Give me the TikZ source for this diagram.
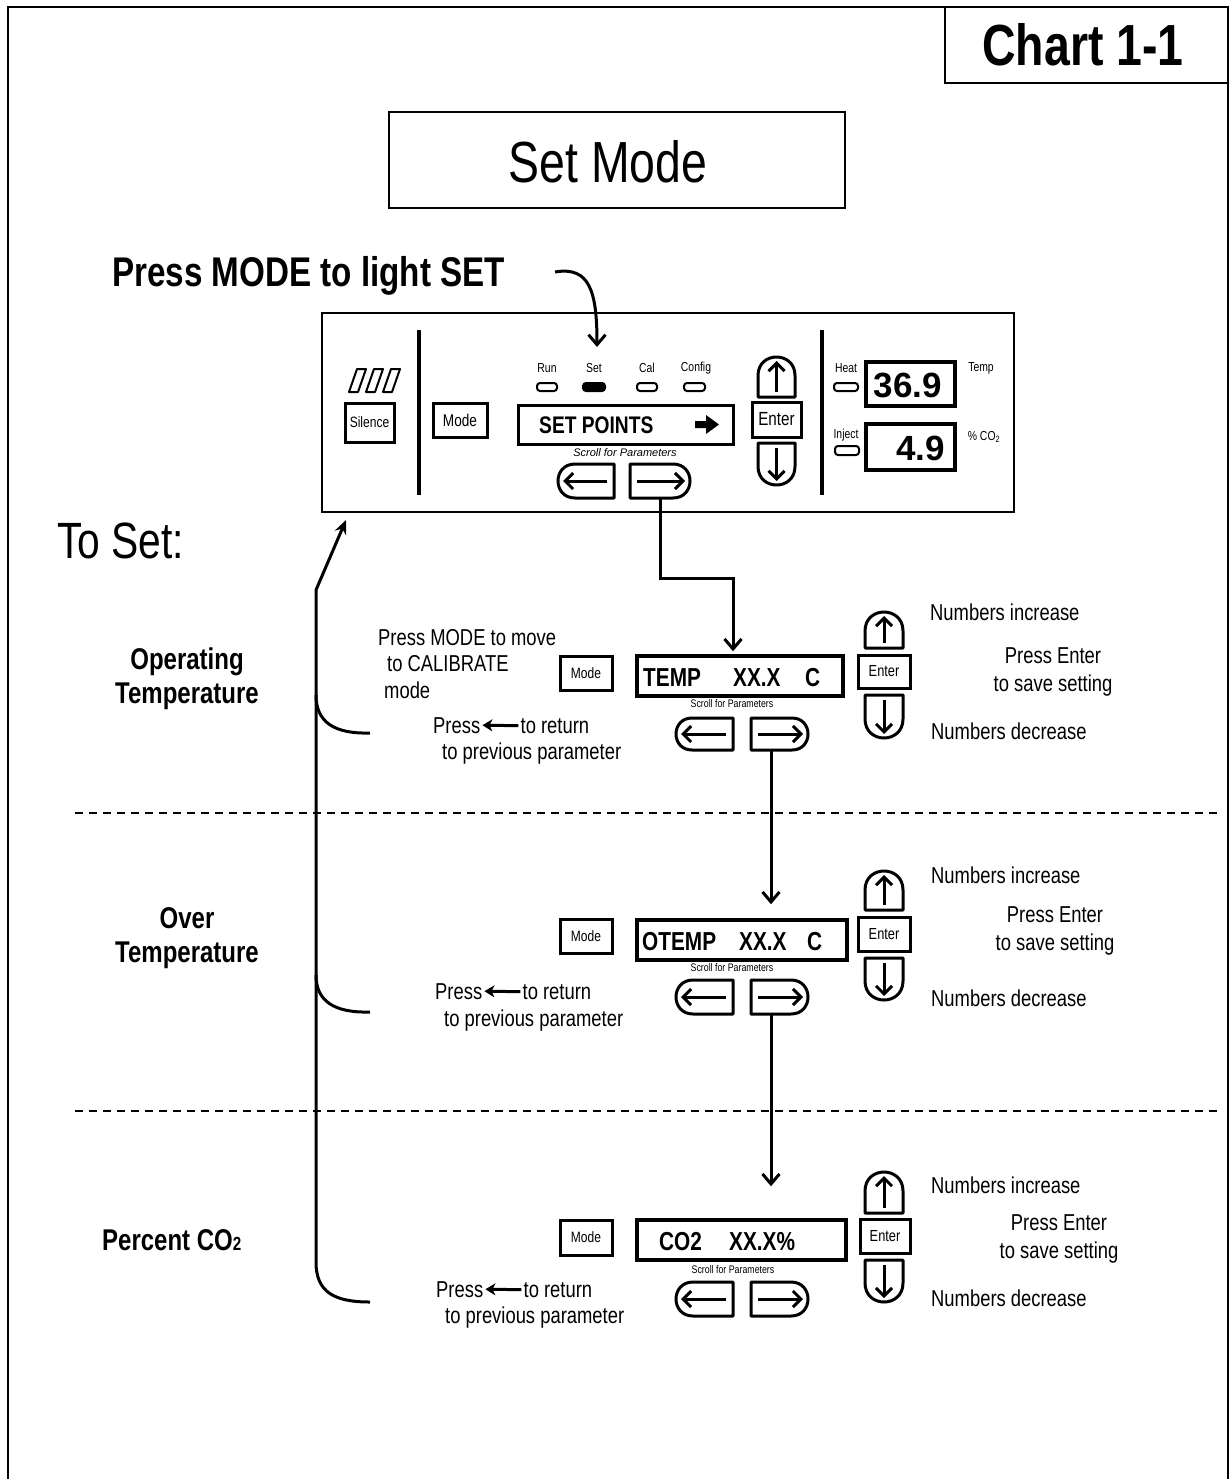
\documentclass[tikz,border=0pt]{standalone}
\usepackage{fontspec}
\setmainfont{Liberation Sans}
\newfontfamily\cond[FakeStretch=0.8]{Liberation Sans}
\usetikzlibrary{arrows.meta,calc}
\newcommand\fsz[2]{\fontsize{#1}{#2}\selectfont}
% box node from corner coordinates: style, name, x1, y1, x2, y2, text
\newcommand\bx[7]{\node[#1,minimum width={#5-#3},minimum height={#6-#4}] (#2) at ({(#3+#5)/2},{(#4+#6)/2}) {#7};}
\newcommand\lbtn[5]{%
 \node[inner sep=0pt,minimum width={#4-#2},minimum height={#5-#3}] (#1) at ({(#2+#4)/2},{(#3+#5)/2}) {};
 \draw[btnline] (#4,#3) -- ({#2+(#5-#3)/2},#3) .. controls ({#2-(#5-#3)/6},#3) and ({#2-(#5-#3)/6},#5) .. ({#2+(#5-#3)/2},#5) -- (#4,#5) -- cycle;
 \draw[inarr] ({#4-7},{(#3+#5)/2}) -- ({#2+5},{(#3+#5)/2});}
\newcommand\rbtn[5]{%
 \node[inner sep=0pt,minimum width={#4-#2},minimum height={#5-#3}] (#1) at ({(#2+#4)/2},{(#3+#5)/2}) {};
 \draw[btnline] (#2,#3) -- ({#4-(#5-#3)/2},#3) .. controls ({#4+(#5-#3)/6},#3) and ({#4+(#5-#3)/6},#5) .. ({#4-(#5-#3)/2},#5) -- (#2,#5) -- cycle;
 \draw[inarr] ({#2+7},{(#3+#5)/2}) -- ({#4-5},{(#3+#5)/2});}
\newcommand\ubtn[5]{%
 \node[inner sep=0pt,minimum width={#4-#2},minimum height={#5-#3}] (#1) at ({(#2+#4)/2},{(#3+#5)/2}) {};
 \draw[btnline] (#2,#5) -- (#2,{#3+(#4-#2)/2}) .. controls (#2,{#3-(#4-#2)/6}) and (#4,{#3-(#4-#2)/6}) .. (#4,{#3+(#4-#2)/2}) -- (#4,#5) -- cycle;
 \draw[inarr] ({(#2+#4)/2},{#5-5}) -- ({(#2+#4)/2},{#3+4});}
\newcommand\dbtn[5]{%
 \node[inner sep=0pt,minimum width={#4-#2},minimum height={#5-#3}] (#1) at ({(#2+#4)/2},{(#3+#5)/2}) {};
 \draw[btnline] (#2,#3) -- (#2,{#5-(#4-#2)/2}) .. controls (#2,{#5+(#4-#2)/6}) and (#4,{#5+(#4-#2)/6}) .. (#4,{#5-(#4-#2)/2}) -- (#4,#3) -- cycle;
 \draw[inarr] ({(#2+#4)/2},{#3+5}) -- ({(#2+#4)/2},{#5-4});}
\begin{document}
\begin{tikzpicture}[x=1pt,y=-1pt,
 btnline/.style={line width=3pt,line join=round},
 inarr/.style={line width=3pt,-{Straight Barb[length=8pt,width=16pt]}},
 btn/.style={draw,line width=3pt,inner sep=0pt,font=\cond\fsz{15}{15}},
 pbtn/.style={draw,line width=3pt,inner sep=0pt,font=\cond\fsz{17}{17}},
 disp/.style={draw,line width=3.5pt,inner sep=0pt},
 led/.style={draw,line width=2pt,rounded corners=3pt,inner sep=0pt},
 txt/.style={inner sep=0pt,font=\cond\fsz{23}{26.5}},
 small/.style={inner sep=0pt,font=\cond\fsz{13}{13}},
 tiny/.style={inner sep=0pt,font=\cond\fsz{11}{11}},
 lcd/.style={inner sep=0pt,anchor=base west,font=\cond\bfseries\fsz{26}{26}},
 sect/.style={inner sep=0pt,align=center,font=\cond\bfseries\fsz{30}{34}},
 conn/.style={line width=3pt,-{Straight Barb[length=10pt,width=17pt]}},
 retarr/.style={line width=3pt,-{Stealth[length=10pt,width=12pt,inset=3pt]}},
 loop/.style={line width=3pt},
 sep/.style={line width=1.5pt,dash pattern=on 8pt off 6pt}]
\useasboundingbox (0,0) rectangle (1231,1479);
\fill[white] (0,0) rectangle (1231,1479);
% outer frame
\draw[line width=2.2pt] (8,1479) -- (8,7) -- (1228,7) -- (1228,1479);
% chart label
\draw[line width=2.2pt] (945,7) -- (945,83) -- (1228,83);
\node[inner sep=0pt,font=\cond\bfseries\fsz{58}{58}] (chart) at (1083,45) {Chart 1-1};
% title
\bx{draw,line width=1.6pt}{setmode}{389}{112}{845}{208}{}
\node[inner sep=0pt,font=\cond\fsz{58}{58}] (setmodet) at (608,162) {Set Mode};
\node[anchor=base west,inner sep=0pt,font=\cond\bfseries\fsz{41.5}{41.5}] (pressmode) at (112,286) {Press MODE to light SET};
\coordinate (pmstart) at (555,272);
\coordinate (pmend) at (597,347);
\draw[conn] (pmstart) .. controls (590,266) and (597,292) .. (pmend);
% ---------- panel ----------
\bx{draw,line width=2.2pt}{panel}{322}{313}{1014}{512}{}
\foreach \i in {0,1,2}{
 \draw[line width=2pt,line join=round] ({349+17*\i},392) -- ({357+17*\i},369) -- ({366+17*\i},369) -- ({358+17*\i},392) -- cycle;}
\bx{pbtn,font=\cond\fsz{15}{15}}{silence}{345}{403}{394}{442}{Silence}
\draw[line width=3.5pt] (419,330) -- (419,495);
\bx{pbtn}{pmode}{433}{403}{487}{437}{Mode}
\node[small] (lrun) at (547,368) {Run};
\node[small] (lset) at (594,368) {Set};
\node[small] (lcal) at (647,368) {Cal};
\node[small] (lcfg) at (696,368) {Config};
\bx{led}{ledrun}{537}{383}{557}{391}{}
\bx{led,fill=black}{setled}{583}{383}{605}{391}{}
\bx{led}{ledcal}{637}{383}{657}{391}{}
\bx{led}{ledcfg}{684}{383}{705}{391}{}
\bx{disp,line width=3pt}{pdisp}{518}{405}{733}{444}{}
\node[anchor=base west,inner sep=0pt,font=\cond\bfseries\fsz{24}{24}] (setpts) at (539,433) {SET POINTS};
\fill (695,421) -- (706,421) -- (706,415) -- (719,424.5) -- (706,434) -- (706,428) -- (695,428) -- cycle;
\node[inner sep=0pt,font=\itshape\fsz{11}{11}] (pscroll) at (625,453) {Scroll for Parameters};
\lbtn{lb0}{558}{464}{614}{498}
\rbtn{rb0}{630}{464}{690}{498}
\ubtn{ub0}{758}{357}{795}{397}
\bx{pbtn,font=\cond\fsz{19}{19}}{pent}{752}{402}{801}{437}{Enter}
\dbtn{db0}{758}{443}{795}{485}
\draw[line width=3.5pt] (822,330) -- (822,495);
\node[small] (lheat) at (846,368) {Heat};
\bx{led}{ledheat}{834}{383}{858}{391}{}
\node[small] (linj) at (846,435) {Inject};
\bx{led}{ledinj}{835}{446}{859}{455}{}
\bx{disp}{tdisp}{866}{362}{955}{406}{}
\node[inner sep=0pt,font=\bfseries\fsz{35}{35}] (tval) at (908,385) {36.9};
\bx{disp}{cdisp}{866}{424}{955}{470}{}
\node[inner sep=0pt,anchor=east,font=\bfseries\fsz{35}{35}] (cval) at (945,448) {4.9};
\node[small] (ltemp) at (981,368) {Temp};
\node[small] (lco2) at (984,437) {\% CO\textsubscript{2}};
% ---------- To Set ----------
\node[anchor=west,inner sep=0pt,font=\cond\fsz{51}{51}] (toset) at (57,541) {To Set:};
% return loop
\coordinate (looptop) at (316,590);
\coordinate (looptip) at (346,520);
\coordinate (hook1) at (370,733);
\coordinate (hook2) at (370,1012);
\coordinate (hook3) at (370,1302);
\draw[loop,-{Stealth[length=14pt,width=12pt]}] (hook3) .. controls (334,1302) and (316,1292) .. (316,1262) -- (looptop) -- (looptip);
\draw[loop] (316,695) .. controls (316,722) and (334,734) .. (hook1);
\draw[loop] (316,975) .. controls (316,1001) and (334,1013) .. (hook2);
% separators
\draw[sep] (75,813) -- (1220,813);
\draw[sep] (75,1111) -- (1220,1111);
% ---------- section 1 ----------
\node[sect] (sec1) at (187,679) {Operating\\Temperature};
\node[txt,anchor=north west,align=left] (modenote) at (378,629) {Press MODE to move\\\hspace*{9pt}to CALIBRATE\\\hspace*{6pt}mode};
\bx{btn}{m1}{560}{656}{612}{690}{Mode}
\bx{disp}{d1}{637}{656}{843}{696}{}
\node[lcd] (d1t) at (643,686) {\makebox[90pt][l]{TEMP}\makebox[72pt][l]{XX.X}C};
\node[tiny] (sc1) at (732,704) {Scroll for Parameters};
\lbtn{lb1}{676}{718}{733}{750}
\rbtn{rb1}{751}{718}{808}{750}
\ubtn{ub1}{865}{612}{903}{648}
\bx{btn,font=\cond\fsz{16}{16}}{e1}{858}{655}{910}{688}{Enter}
\dbtn{db1}{865}{695}{903}{738}
\node[txt,anchor=base west] (ni1) at (930,620) {Numbers increase};
\node[txt,align=center,font=\cond\fsz{23}{28}] (pe1) at (1053,672) {Press Enter\\to save setting};
\node[txt,anchor=base west] (nd1) at (931,739) {Numbers decrease};
\node[txt,anchor=base west] (p1) at (433,733) {Press};
\node[txt,anchor=base west] (r1) at ([xshift=40pt]p1.base east) {to return};
\draw[retarr] ([xshift=-2pt]r1.west) -- ([xshift=2pt]p1.east);
\node[txt,anchor=base west] (pp1) at (442,759) {to previous parameter};
\draw[conn,shorten >=3pt] (rb0.south) -- ++(0,80) -| ([xshift=-7pt]d1.north);
% ---------- section 2 ----------
\node[sect] (sec2) at (187,938) {Over\\Temperature};
\bx{btn}{m2}{560}{919}{612}{953}{Mode}
\bx{disp}{d2}{637}{920}{847}{960}{}
\node[lcd] (d2t) at (642,950) {\makebox[97pt][l]{OTEMP}\makebox[68pt][l]{XX.X}C};
\node[tiny] (sc2) at (732,968) {Scroll for Parameters};
\lbtn{lb2}{676}{980}{733}{1014}
\rbtn{rb2}{751}{980}{808}{1014}
\ubtn{ub2}{865}{871}{903}{910}
\bx{btn,font=\cond\fsz{16}{16}}{e2}{858}{917}{910}{951}{Enter}
\dbtn{db2}{865}{958}{903}{1000}
\node[txt,anchor=base west] (ni2) at (931,883) {Numbers increase};
\node[txt,align=center,font=\cond\fsz{23}{28}] (pe2) at (1055,931) {Press Enter\\to save setting};
\node[txt,anchor=base west] (nd2) at (931,1006) {Numbers decrease};
\node[txt,anchor=base west] (p2) at (435,999) {Press};
\node[txt,anchor=base west] (r2) at ([xshift=40pt]p2.base east) {to return};
\draw[retarr] ([xshift=-2pt]r2.west) -- ([xshift=2pt]p2.east);
\node[txt,anchor=base west] (pp2) at (444,1026) {to previous parameter};
\draw[conn,shorten >=14pt] ([xshift=-8.5pt]rb1.south) -- ([xshift=-8.5pt]rb1.south |- d2.north);
% ---------- section 3 ----------
\node[inner sep=0pt,anchor=west,font=\cond\bfseries\fsz{30}{34}] (sec3) at (102,1240) {Percent CO{\fsz{19}{19}2}};
\bx{btn}{m3}{560}{1220}{612}{1255}{Mode}
\bx{disp}{d3}{637}{1220}{846}{1260}{}
\node[lcd] (d3t) at (659,1250) {\makebox[70pt][l]{CO2}XX.X\%};
\node[tiny] (sc3) at (733,1270) {Scroll for Parameters};
\lbtn{lb3}{676}{1282}{733}{1316}
\rbtn{rb3}{751}{1282}{808}{1316}
\ubtn{ub3}{865}{1172}{903}{1213}
\bx{btn,font=\cond\fsz{16}{16}}{e3}{860}{1219}{910}{1253}{Enter}
\dbtn{db3}{865}{1260}{903}{1302}
\node[txt,anchor=base west] (ni3) at (931,1193) {Numbers increase};
\node[txt,align=center,font=\cond\fsz{23}{28}] (pe3) at (1059,1239) {Press Enter\\to save setting};
\node[txt,anchor=base west] (nd3) at (931,1306) {Numbers decrease};
\node[txt,anchor=base west] (p3) at (436,1297) {Press};
\node[txt,anchor=base west] (r3) at ([xshift=40pt]p3.base east) {to return};
\draw[retarr] ([xshift=-2pt]r3.west) -- ([xshift=2pt]p3.east);
\node[txt,anchor=base west] (pp3) at (445,1323) {to previous parameter};
\draw[conn,shorten >=32pt] ([xshift=-8.5pt]rb2.south) -- ([xshift=-8.5pt]rb2.south |- d3.north);
\end{tikzpicture}
\end{document}
